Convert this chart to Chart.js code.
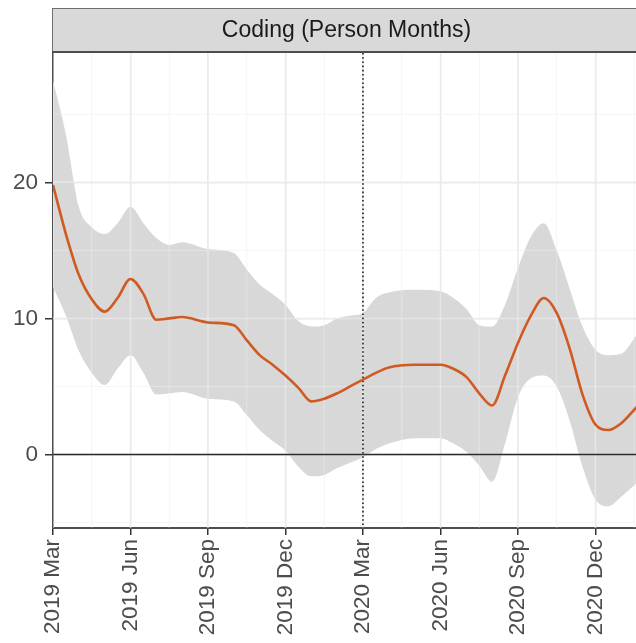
<!DOCTYPE html>
<html>
<head>
<meta charset="utf-8">
<script src="https://cdn.jsdelivr.net/npm/chart.js@4"></script>
<style>
  html, body { margin: 0; padding: 0; background: #fff; overflow: hidden; }
  #wrap { width: 636px; height: 643px; }
</style>
</head>
<body>
<div id="wrap"><canvas id="codingChart" width="636" height="643"></canvas></div>
<script>
// months since 2019 Mar
const monthOffsets = [0, 0.5, 1, 1.5, 2, 2.5, 3, 3.5, 4, 4.5, 5, 6, 7, 7.5, 8, 8.5, 9, 9.5, 10, 10.5,
    11, 11.5, 12, 12.5, 13, 14, 15, 15.5, 16, 16.5, 17, 17.5, 18, 18.5, 19, 19.5, 20, 20.5, 21, 21.5, 22, 22.6];
// smoothed estimate (orange line)
const fitValues = [19.8, 16.2, 13.2, 11.4, 10.5, 11.5, 12.9, 11.8, 9.9, 10.0, 10.1, 9.7, 9.5, 8.4, 7.3, 6.6,
    5.8, 4.9, 3.9, 4.1, 4.5, 5.0, 5.5, 6.0, 6.4, 6.6, 6.6, 6.3, 5.7, 4.5, 3.6, 5.8, 8.2, 10.2, 11.5, 10.4,
    7.8, 4.4, 2.2, 1.8, 2.3, 3.5];
// confidence band
const upperValues = [27.5, 23.5, 18.2, 16.7, 16.2, 17.0, 18.2, 17.0, 15.9, 15.4, 15.6, 15.1, 14.8, 13.6, 12.5,
    11.8, 11.0, 9.8, 9.4, 9.5, 10.0, 10.2, 10.4, 11.5, 11.9, 12.1, 12.0, 11.5, 10.7, 9.5, 9.4, 11.0, 13.7,
    16.0, 17.0, 15.0, 12.2, 9.4, 7.7, 7.3, 7.4, 8.8];
const lowerValues = [12.3, 10.2, 7.6, 6.0, 5.1, 6.3, 7.3, 6.0, 4.4, 4.5, 4.6, 4.1, 3.9, 2.9, 1.8, 1.0, 0.3,
    -0.9, -1.6, -1.5, -1.0, -0.6, -0.2, 0.4, 0.8, 1.2, 1.2, 0.8, 0.2, -0.8, -2.0, 0.8, 4.2, 5.6, 5.8, 5.0,
    2.5, -0.9, -3.3, -3.8, -3.1, -2.1];
const quarterLabels = ['2019 Mar', '2019 Jun', '2019 Sep', '2019 Dec',
    '2020 Mar', '2020 Jun', '2020 Sep', '2020 Dec'];
const yTickLabels = [0, 10, 20];
const markerMonth = 12; // 2020 Mar

const toPoints = vals => monthOffsets.map((m, i) => ({ x: m, y: vals[i] }));

const isMajorX = v => Math.abs(v % 3) < 1e-6;
const isMajorY = v => Math.abs(v % 10) < 1e-6;

const MAJOR_GRID = '#ebebeb';
const MINOR_GRID = '#f4f4f4';

// facet strip on top of the panel
const stripPlugin = {
    id: 'strip',
    beforeDraw(chart) {
        const { ctx, chartArea } = chart;
        ctx.save();
        ctx.fillStyle = '#d9d9d9';
        ctx.fillRect(chartArea.left - 1, 8, chart.width + 10, chartArea.top - 8);
        ctx.strokeStyle = '#6e6e6e';
        ctx.lineWidth = 1;
        ctx.strokeRect(chartArea.left - 0.5, 8.5, chart.width + 10, chartArea.top - 9);
        ctx.strokeStyle = '#4d4d4d';
        ctx.lineWidth = 2;
        ctx.beginPath();
        ctx.moveTo(chartArea.left - 1, chartArea.top - 1);
        ctx.lineTo(chart.width, chartArea.top - 1);
        ctx.stroke();
        ctx.fillStyle = '#1a1a1a';
        ctx.font = '23px "Liberation Sans", Arial, sans-serif';
        ctx.textAlign = 'center';
        ctx.textBaseline = 'middle';
        ctx.fillText('Coding (Person Months)', (chartArea.left + 640) / 2, 31);
        ctx.restore();
    }
};

// grid drawn again over the ribbon, plus reference lines, before the fit line
const overlayPlugin = {
    id: 'overlay',
    beforeDatasetDraw(chart, args) {
        if (args.index !== 0) return;
        const { ctx, chartArea, scales } = chart;
        ctx.save();
        ctx.beginPath();
        ctx.rect(chartArea.left, chartArea.top, chartArea.right - chartArea.left, chartArea.bottom - chartArea.top);
        ctx.clip();
        scales.x.ticks.forEach(t => {
            const px = scales.x.getPixelForValue(t.value);
            ctx.strokeStyle = isMajorX(t.value) ? 'rgba(235,235,235,0.75)' : 'rgba(244,244,244,0.5)';
            ctx.lineWidth = isMajorX(t.value) ? 1.5 : 0.8;
            ctx.beginPath();
            ctx.moveTo(px, chartArea.top);
            ctx.lineTo(px, chartArea.bottom);
            ctx.stroke();
        });
        scales.y.ticks.forEach(t => {
            const py = scales.y.getPixelForValue(t.value);
            ctx.strokeStyle = isMajorY(t.value) ? 'rgba(235,235,235,0.75)' : 'rgba(244,244,244,0.5)';
            ctx.lineWidth = isMajorY(t.value) ? 1.5 : 0.8;
            ctx.beginPath();
            ctx.moveTo(chartArea.left, py);
            ctx.lineTo(chartArea.right, py);
            ctx.stroke();
        });
        // zero line
        const y0 = scales.y.getPixelForValue(0);
        ctx.strokeStyle = '#2b2b2b';
        ctx.lineWidth = 1.3;
        ctx.beginPath();
        ctx.moveTo(chartArea.left, y0);
        ctx.lineTo(chartArea.right, y0);
        ctx.stroke();
        // 2020 Mar marker
        const xm = scales.x.getPixelForValue(markerMonth);
        ctx.setLineDash([1.6, 2.6]);
        ctx.lineWidth = 1.7;
        ctx.beginPath();
        ctx.moveTo(xm, chartArea.top);
        ctx.lineTo(xm, chartArea.bottom);
        ctx.stroke();
        ctx.restore();
    }
};

const tickFont = { family: '"Liberation Sans", Arial, sans-serif', size: 22.5 };

new Chart(document.getElementById('codingChart'), {
    type: 'line',
    data: {
        datasets: [
            {
                label: 'fit',
                data: toPoints(fitValues),
                borderColor: '#cf5a22',
                borderWidth: 2.6,
                pointRadius: 0,
                cubicInterpolationMode: 'monotone',
                fill: false,
                order: 0
            },
            {
                label: 'upper',
                data: toPoints(upperValues),
                borderWidth: 0,
                borderColor: 'rgba(0,0,0,0)',
                backgroundColor: '#d8d8d8',
                pointRadius: 0,
                cubicInterpolationMode: 'monotone',
                fill: 2,
                order: 1
            },
            {
                label: 'lower',
                data: toPoints(lowerValues),
                borderWidth: 0,
                borderColor: 'rgba(0,0,0,0)',
                pointRadius: 0,
                cubicInterpolationMode: 'monotone',
                fill: false,
                order: 2
            }
        ]
    },
    options: {
        responsive: false,
        animation: false,
        events: [],
        layout: { padding: { top: 53, left: 0, right: 0, bottom: 0 } },
        plugins: {
            legend: { display: false },
            tooltip: { enabled: false },
            title: { display: false }
        },
        scales: {
            x: {
                type: 'linear',
                min: 0,
                max: 22.57,
                afterFit: s => {
                    s.height = 115;
                    s.paddingLeft = 0;
                    s.paddingRight = 0;
                },
                border: { display: true, color: '#4d4d4d', width: 2 },
                grid: {
                    color: c => isMajorX(c.tick.value) ? MAJOR_GRID : MINOR_GRID,
                    lineWidth: c => isMajorX(c.tick.value) ? 1.5 : 0.8,
                    tickColor: c => isMajorX(c.tick.value) ? '#333333' : 'rgba(0,0,0,0)',
                    tickLength: 7,
                    tickWidth: 1.5
                },
                ticks: {
                    stepSize: 1.5,
                    includeBounds: false,
                    autoSkip: false,
                    minRotation: 90,
                    maxRotation: 90,
                    padding: 4,
                    color: '#4d4d4d',
                    font: tickFont,
                    callback: v => isMajorX(v) ? quarterLabels[Math.round(v / 3)] : ''
                }
            },
            y: {
                min: -5.4,
                max: 29.5,
                afterFit: s => {
                    s.width = 53;
                    s.paddingTop = 0;
                    s.paddingBottom = 0;
                },
                border: { display: true, color: '#4d4d4d', width: 2 },
                grid: {
                    color: c => isMajorY(c.tick.value) ? MAJOR_GRID : MINOR_GRID,
                    lineWidth: c => isMajorY(c.tick.value) ? 1.5 : 0.8,
                    tickColor: c => isMajorY(c.tick.value) ? '#333333' : 'rgba(0,0,0,0)',
                    tickLength: 8,
                    tickWidth: 1.5
                },
                ticks: {
                    stepSize: 5,
                    includeBounds: false,
                    padding: 7,
                    color: '#4d4d4d',
                    font: tickFont,
                    callback: v => (isMajorY(v) && yTickLabels.includes(v)) ? String(v) : ''
                }
            }
        }
    },
    plugins: [stripPlugin, overlayPlugin]
});
</script>
</body>
</html>
